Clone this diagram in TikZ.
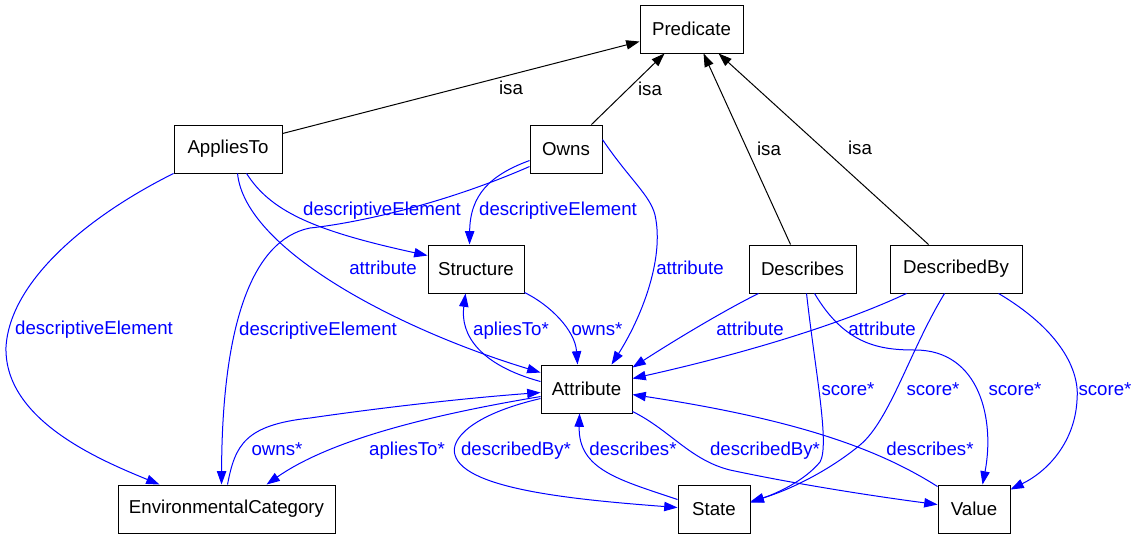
\documentclass[tikz,border=0pt]{standalone}
\usepackage{fontspec}
\setmainfont{Liberation Sans}
\usetikzlibrary{arrows.meta,calc}
\begin{document}
\begin{tikzpicture}[x=0.75pt,y=-0.75pt,
  box/.style={draw, line width=0.7pt, minimum height=36pt, inner sep=0pt, font=\fontsize{14}{16}\selectfont},
  lbl/.style={font=\fontsize{14}{16}\selectfont, inner sep=0pt, text height=10pt, text depth=3pt, yshift=-1.5pt},
  bl/.style={lbl, text=blue},
  isa/.style={draw=black, line width=0.75pt, -{Triangle[length=10pt,width=7pt]}},
  rel/.style={draw=blue, line width=0.75pt, -{Triangle[length=10pt,width=7pt]}}]
\useasboundingbox (0,0) rectangle (1137,539);
% nodes
\node[box, minimum width=77.25pt] (Predicate) at (691.5,29) {Predicate};
\node[box, minimum width=81pt] (AppliesTo) at (228,149) {AppliesTo};
\node[box, minimum width=54pt] (Owns) at (566,149) {Owns};
\node[box, minimum width=72pt] (Structure) at (476,269) {Structure};
\node[box, minimum width=80.25pt] (Describes) at (802.5,269) {Describes};
\node[box, minimum width=99pt] (DescribedBy) at (956,269) {DescribedBy};
\node[box, minimum width=68.25pt] (Attribute) at (586.5,389) {Attribute};
\node[box, minimum width=162.75pt] (EnvCat) at (226.5,509) {EnvironmentalCategory};
\node[box, minimum width=54pt] (State) at (714,509) {State};
\node[box, minimum width=54pt] (Value) at (974,509) {Value};
% isa edges
\draw[isa] ($(AppliesTo.north east)+(0,9)$) -- ($(Predicate.north west)+(0,37)$);
\draw[isa] ($(Owns.north east)+(-11,0)$) -- ($(Predicate.south west)+(25,0)$);
\draw[isa] ($(Describes.north west)+(42,0)$) -- ($(Predicate.south west)+(64,0)$);
\draw[isa] ($(DescribedBy.north west)+(39,0)$) -- ($(Predicate.south west)+(79,0)$);
\node[lbl] (isa1) at (511,88) {isa};
\node[lbl] (isa2) at (650,89) {isa};
\node[lbl] (isa3) at (769,149) {isa};
\node[lbl] (isa4) at (860,148) {isa};
% blue edges
\draw[rel] (AppliesTo.south west) .. controls (90,215) and (10,280) .. (6,347)
  .. controls (4,420) and (100,460) .. ($(EnvCat.north west)+(42,0)$);
\draw[rel] ($(AppliesTo.south west)+(73,0)$) .. controls (270,210) and (310,230) .. ($(Structure.north west)+(0,11)$);
\draw[rel] ($(AppliesTo.south west)+(64,0)$) .. controls (245,250) and (400,330) .. ($(Attribute.north west)+(0,8)$);
\draw[rel] ($(Owns.north west)+(0,42)$) .. controls (430,210) and (340,225) .. (310,228)
  .. controls (250,240) and (222,330) .. ($(EnvCat.north west)+(104,0)$);
\draw[rel] ($(Owns.north west)+(0,36)$) .. controls (490,175) and (470,195) .. ($(Structure.north west)+(42,0)$);
\draw[rel] ($(Owns.north east)+(0,15)$) .. controls (630,180) and (650,195) .. (655,215)
  .. controls (665,260) and (640,320) .. ($(Attribute.north west)+(71,0)$);
\draw[rel] ($(Structure.south east)+(0,-1)$) .. controls (550,305) and (575,330) .. ($(Attribute.north west)+(37,0)$);
\draw[rel] ($(Attribute.north west)+(0,17)$) .. controls (480,365) and (460,335) .. ($(Structure.south west)+(38,0)$);
\draw[rel] ($(Describes.south west)+(10,0)$) .. controls (725,310) and (675,340) .. ($(Attribute.north east)+(0,3)$);
\draw[rel] ($(DescribedBy.south west)+(17,0)$) .. controls (850,320) and (760,350) .. ($(Attribute.north east)+(0,14)$);
\draw[rel] ($(Describes.south west)+(58,0)$) .. controls (815,370) and (830,445) .. (820,462)
  .. controls (805,480) and (780,492) .. ($(State.north east)+(0,18)$);
\draw[rel] ($(DescribedBy.south west)+(55,0)$) .. controls (910,350) and (890,420) .. (860,445)
  .. controls (830,470) and (790,490) .. ($(State.north east)+(0,17)$);
\draw[rel] ($(Describes.south west)+(66,0)$) .. controls (845,345) and (880,350) .. (915,350)
  .. controls (980,350) and (995,420) .. ($(Value.north west)+(45,0)$);
\draw[rel] ($(DescribedBy.south west)+(109,0)$) .. controls (1060,330) and (1080,370) .. (1077,400)
  .. controls (1075,440) and (1050,470) .. ($(Value.north east)+(0,5)$);
\draw[rel] ($(EnvCat.north west)+(110,0)$) .. controls (235,445) and (245,425) .. (310,418)
  .. controls (400,405) and (480,397) .. ($(Attribute.north west)+(0,28)$);
\draw[rel] ($(Attribute.north west)+(0,32)$) .. controls (430,415) and (330,440) .. ($(EnvCat.north west)+(149,0)$);
\draw[rel] ($(Attribute.north west)+(0,34)$) .. controls (470,415) and (450,440) .. (455,455)
  .. controls (465,490) and (580,500) .. ($(State.north west)+(0,23)$);
\draw[rel] ($(State.north west)+(0,15)$) .. controls (620,480) and (578,470) .. ($(Attribute.south west)+(39,0)$);
\draw[rel] ($(Attribute.south east)+(0,-2)$) .. controls (670,430) and (690,460) .. (730,470)
  .. controls (800,485) and (880,497) .. ($(Value.north west)+(0,20)$);
\draw[rel] ($(Value.north west)+(0,2)$) .. controls (880,450) and (800,420) .. ($(Attribute.north east)+(0,30)$);
% blue labels
\node[bl] (l5) at (94,328) {descriptiveElement};
\node[bl] (l6) at (382,209) {descriptiveElement};
\node[bl] (l7) at (383,268) {attribute};
\node[bl] (l8) at (318,329) {descriptiveElement};
\node[bl] (l9) at (558,209) {descriptiveElement};
\node[bl] (l10) at (690,268) {attribute};
\node[bl] (l11) at (597,329) {owns*};
\node[bl] (l12) at (511,329) {apliesTo*};
\node[bl] (l13) at (750,329) {attribute};
\node[bl] (l14) at (882,329) {attribute};
\node[bl] (l15) at (848,389) {score*};
\node[bl] (l16) at (933,389) {score*};
\node[bl] (l17) at (1015,389) {score*};
\node[bl] (l18) at (1105,389) {score*};
\node[bl] (l19) at (277,449) {owns*};
\node[bl] (l20) at (407,449) {apliesTo*};
\node[bl] (l21) at (516,449) {describedBy*};
\node[bl] (l22) at (633,449) {describes*};
\node[bl] (l23) at (765,449) {describedBy*};
\node[bl] (l24) at (930,449) {describes*};
\end{tikzpicture}
\end{document}
